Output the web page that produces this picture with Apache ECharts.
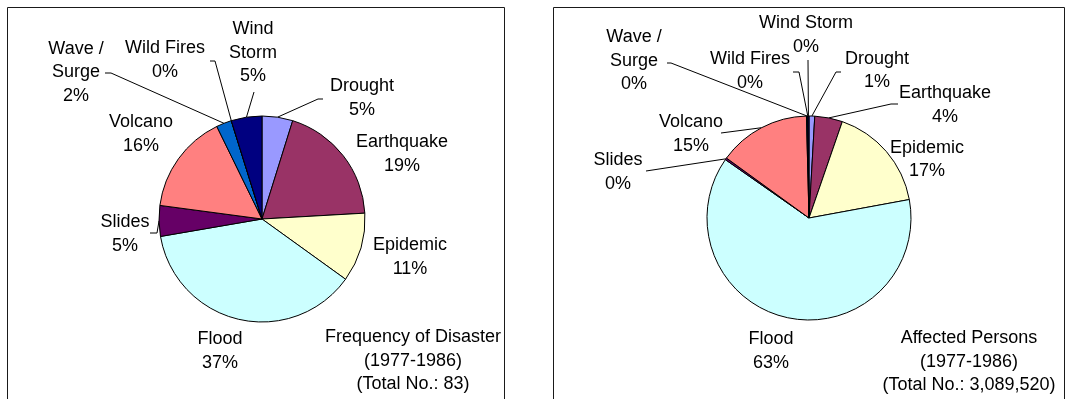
<!DOCTYPE html>
<html>
<head>
<meta charset="utf-8">
<script src="https://cdn.jsdelivr.net/npm/echarts@6/dist/echarts.min.js"></script>
<style>
  html, body { margin: 0; padding: 0; background: #ffffff; }
  #chart { width: 1071px; height: 399px; }
</style>
</head>
<body>
<div id="chart"></div>
<script>
// Disaster categories, in the order the slices run clockwise from 12 o'clock
const categories = ['Drought', 'Earthquake', 'Epidemic', 'Flood', 'Slides', 'Volcano', 'Wave / Surge', 'Wild Fires', 'Wind Storm'];

// Number of disasters per type, 1977-1986 (total 83)
const frequencyCounts = [4, 16, 9, 31, 4, 13, 2, 0, 4];

// Persons affected per type, 1977-1986 (total 3,089,520)
const affectedPersons = [27810, 135940, 519040, 1934040, 9270, 451070, 6180, 620, 5550];

// Caption lines under each pie
const frequencyCaption = ['Frequency of Disaster', '(1977-1986)', '(Total No.: 83)'];
const affectedCaption = ['Affected Persons', '(1977-1986)', '(Total No.: 3,089,520)'];

// Slice fills
const sliceColors = ['#9999FF', '#993366', '#FFFFCC', '#CCFFFF', '#660066', '#FF8080', '#0066CC', '#CCCCFF', '#000080'];

const FONT = '"Liberation Sans", Arial, Helvetica, sans-serif';
const FONT_SIZE = 18;
const LINE_H = 23.5;

// Label placement for each pie: label centre, optional wrapped text and leader-line bends
const frequencyLabels = {
  'Drought':      { x: 362, y: 98,   line: [[318, 99], [323, 99]] },
  'Earthquake':   { x: 402, y: 154 },
  'Epidemic':     { x: 410, y: 257 },
  'Flood':        { x: 220, y: 351 },
  'Slides':       { x: 125, y: 234,  line: [[157, 233], [150, 233]] },
  'Volcano':      { x: 141, y: 134 },
  'Wave / Surge': { x: 76,  y: 72.5, text: 'Wave /\nSurge', line: [[111, 73], [105, 73]] },
  'Wild Fires':   { x: 165, y: 60,   line: [[215, 61], [210, 61]] },
  'Wind Storm':   { x: 253, y: 53,   text: 'Wind\nStorm', line: [[254, 92]] }
};
const affectedLabels = {
  'Drought':      { x: 877, y: 70.5, line: [[836, 72], [841, 72]] },
  'Earthquake':   { x: 945, y: 105,  line: [[891, 104], [898, 104]] },
  'Epidemic':     { x: 927, y: 159.5 },
  'Flood':        { x: 771, y: 351 },
  'Slides':       { x: 618, y: 172,  line: [[646, 171]] },
  'Volcano':      { x: 691, y: 134,  line: [[721, 133]] },
  'Wave / Surge': { x: 634, y: 61,   text: 'Wave /\nSurge', line: [[671, 63], [667, 63]] },
  'Wild Fires':   { x: 750, y: 71,   line: [[799, 72], [793, 72]] },
  'Wind Storm':   { x: 806, y: 35,   line: [[808, 60]] }
};

function buildData(values, labels) {
  return categories.map(function (name, i) {
    return {
      name: name,
      value: values[i],
      itemStyle: { color: sliceColors[i] },
      labelLine: { show: !!labels[name].line }
    };
  });
}

function pieSeries(values, labels, center, radius) {
  return {
    type: 'pie',
    center: center,
    radius: radius,
    startAngle: 90,
    clockwise: true,
    avoidLabelOverlap: false,
    minShowLabelAngle: 0,
    stillShowZeroSum: true,
    silent: true,
    data: buildData(values, labels),
    itemStyle: { borderColor: '#000000', borderWidth: 1 },
    label: {
      show: true,
      position: 'outside',
      color: '#000000',
      fontFamily: FONT,
      fontSize: FONT_SIZE,
      lineHeight: LINE_H,
      align: 'center',
      formatter: function (p) {
        const cfg = labels[p.name];
        return (cfg.text || p.name) + '\n' + Math.round(p.percent) + '%';
      }
    },
    labelLine: {
      show: true,
      length: 10,
      length2: 10,
      smooth: false,
      lineStyle: { color: '#000000', width: 1 }
    },
    labelLayout: function (p) {
      const cfg = labels[categories[p.dataIndex]];
      const out = { x: cfg.x, y: cfg.y, align: 'center', verticalAlign: 'middle' };
      if (cfg.line && p.labelLinePoints) {
        out.labelLinePoints = [p.labelLinePoints[0]].concat(cfg.line);
      }
      return out;
    },
    emphasis: { disabled: true }
  };
}

function caption(lines, x, y) {
  return {
    type: 'text',
    x: x,
    y: y,
    silent: true,
    style: {
      text: lines.join('\n'),
      align: 'center',
      verticalAlign: 'middle',
      fontFamily: FONT,
      fontSize: FONT_SIZE,
      lineHeight: LINE_H,
      fill: '#000000'
    }
  };
}

function frame(x, width) {
  return {
    type: 'rect',
    silent: true,
    shape: { x: x, y: 7.5, width: width, height: 420 },
    style: { fill: 'none', stroke: '#1a1a1a', lineWidth: 1 }
  };
}

const chart = echarts.init(document.getElementById('chart'), null, { renderer: 'canvas' });
chart.setOption({
  animation: false,
  backgroundColor: '#ffffff',
  graphic: [
    frame(7.5, 497),
    frame(553.5, 511),
    caption(frequencyCaption, 413, 361),
    caption(affectedCaption, 969, 362)
  ],
  series: [
    pieSeries(frequencyCounts, frequencyLabels, [262, 219], 103),
    pieSeries(affectedPersons, affectedLabels, [809, 218], 102)
  ]
});
</script>
</body>
</html>
